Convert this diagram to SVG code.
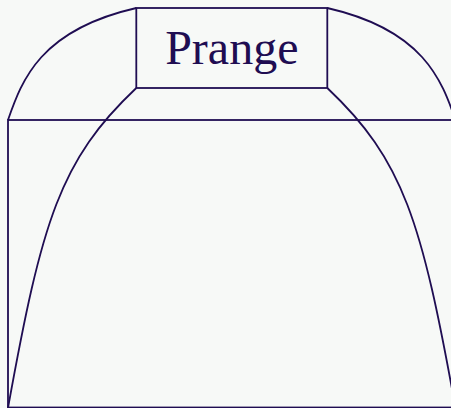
<svg xmlns="http://www.w3.org/2000/svg" width="451" height="408" viewBox="0 0 451 408">
<style>
.l{fill:none;stroke:#1f0d52;stroke-width:1.8}
.t{font-family:"Liberation Serif",serif;font-size:48px;fill:#1f0d52;text-anchor:middle}
</style>
<rect width="451" height="408" fill="#f7f9f7"/>
<g id="connectors">
<path class="l" d="M8,120 C22,80 40,30 136.3,8"/>
<path class="l" d="M327.3,8 C423.5,30 441.5,80 455.5,120"/>
<path class="l" d="M136.3,88 C60,160 42,220 8,408"/>
<path class="l" d="M327.3,88 C403.5,160 421.5,220 455.5,408"/>
</g>
<g id="base">
<rect class="l" x="8" y="120" width="447.5" height="287.5"/>
</g>
<g id="prange">
<rect class="l" x="136.3" y="8" width="191" height="80"/>
<text class="t" x="231.8" y="64">Prange</text>
</g>
</svg>
